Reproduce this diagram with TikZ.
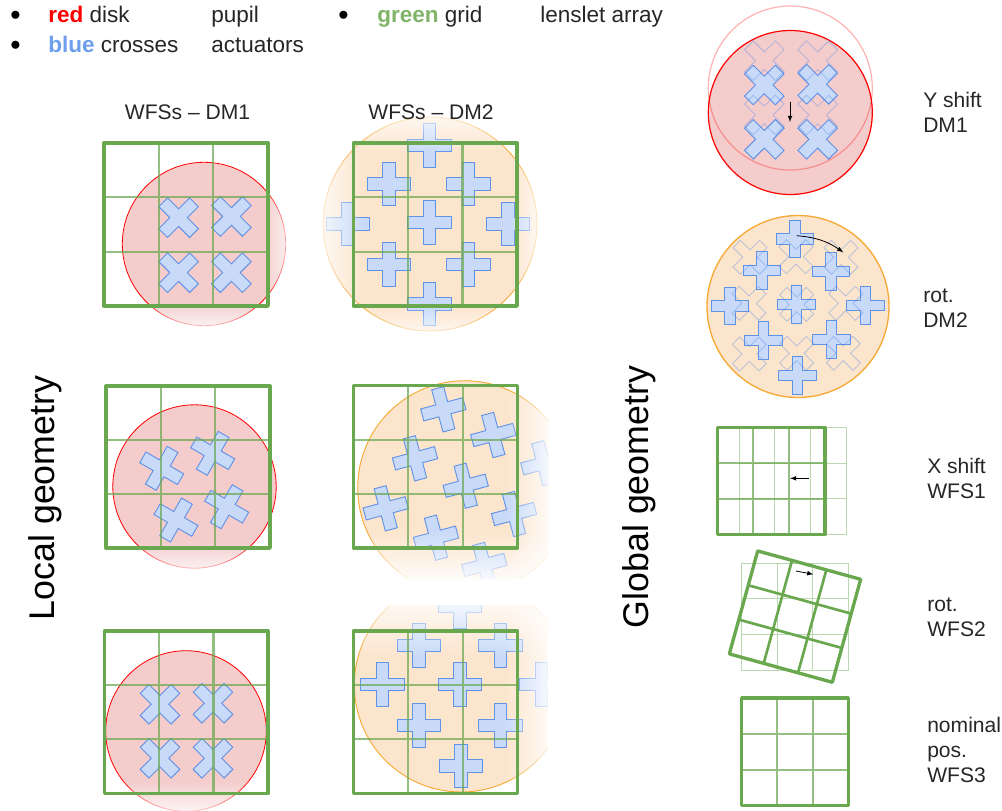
\documentclass[tikz,border=0pt]{standalone}
\usepackage{fontspec}
\setmainfont{Liberation Sans}
\usetikzlibrary{fadings}

\definecolor{diskred}{HTML}{F4CCCC}
\definecolor{ringorange}{HTML}{F6A935}
\definecolor{diskorange}{HTML}{FCE5CD}
\definecolor{actfill}{HTML}{C9DAF8}
\definecolor{actline}{HTML}{4A86E8}
\definecolor{gridgreen}{HTML}{6AA84F}
\definecolor{wordblue}{HTML}{6D9EEB}

\tikzstyle{reddisk} = [fill = diskred, draw = red, line width = 0.6pt]
\tikzstyle{orangedisk} = [fill = diskorange, draw = ringorange, line width = 0.7pt]
\tikzstyle{actuator} = [fill = actfill, draw = actline, draw opacity = 0.85, line width = 0.7pt, line join = miter]
\tikzstyle{ghostact} = [draw = actline, draw opacity = 0.35, line width = 0.7pt]
\tikzstyle{gridouter} = [draw = gridgreen, line width = 2.5pt, line join = round]
\tikzstyle{gridinner} = [draw = gridgreen, line width = 1.7pt, draw opacity = 0.72]
\tikzstyle{gridsolid} = [draw = gridgreen, line width = 2pt]
\tikzstyle{gridghost} = [draw = gridgreen, line width = 0.7pt, draw opacity = 0.45]
\tikzstyle{sidetext} = [font = \fontsize{15.8}{18.8}\selectfont, align = left, anchor = west, inner sep = 0pt, text = black!85]
\tikzstyle{legendtext} = [font = \fontsize{16.9}{20}\selectfont, anchor = base west, inner sep = 0pt, text = black!85]
\tikzstyle{bulletmark} = [font = \fontsize{14}{16}\selectfont, anchor = base west, inner sep = 0pt, text = black]
\tikzstyle{bignote} = [font = \fontsize{26.8}{30}\selectfont, rotate = 90, inner sep = 0pt]
\tikzstyle{shiftarrow} = [-latex, line width = 0.6pt, black]

\def\hl{21.8}
\def\hw{6.2}

\newcommand{\plusat}[4]{\draw[#1, shift = {(#2, #3)}, rotate = #4]
	(-\hw, -\hl) -- (\hw, -\hl) -- (\hw, -\hw) -- (\hl, -\hw) -- (\hl, \hw) -- (\hw, \hw) -- (\hw, \hl)
	-- (-\hw, \hl) -- (-\hw, \hw) -- (-\hl, \hw) -- (-\hl, -\hw) -- (-\hw, -\hw) -- cycle;}

\newcommand{\lensgrid}[6]{
	\pgfmathsetmacro{\gxa}{#3 + (#5 - #3) / 3}
	\pgfmathsetmacro{\gxb}{#3 + 2 * (#5 - #3) / 3}
	\pgfmathsetmacro{\gya}{#4 + (#6 - #4) / 3}
	\pgfmathsetmacro{\gyb}{#4 + 2 * (#6 - #4) / 3}
	\draw[#2] (\gxa, #4) -- (\gxa, #6) (\gxb, #4) -- (\gxb, #6) (#3, \gya) -- (#5, \gya) (#3, \gyb) -- (#5, \gyb);
	\draw[#1] (#3, #4) rectangle (#5, #6);}

\begin{document}
\begin{tikzpicture}[x = 0.75pt, y = -0.75pt]
	\useasboundingbox (0, 0) rectangle (1002, 810);

	% top left panel
	\draw[reddisk] (204, 244) circle (81.7);
	\foreach \cx/\cy in {178.6/217.7, 231.4/216.5, 178.6/272.7, 231.4/272.7}
		\plusat{actuator}{\cx}{\cy}{45};
	\fill[white, path fading = west] (264, 160) rectangle (296, 330);
	\fill[white, path fading = north] (110, 301) rectangle (295, 335);
	\lensgrid{gridouter}{gridinner}{104}{143}{268}{306}

	% top middle panel
	\draw[orangedisk] (430, 224) circle (107);
	\foreach \cx/\cy in {429.6/145.7, 389/184, 468.6/184, 429.6/222.7, 348/224, 508/224, 389/264.7, 468.6/264.7, 429.6/304}
		\plusat{actuator}{\cx}{\cy}{0};
	\fill[white, path fading = east] (309, 110) rectangle (363, 340);
	\fill[white, path fading = south] (320, 103) rectangle (540, 153);
	\fill[white, path fading = north] (320, 306) rectangle (540, 342);
	\fill[white, path fading = west] (511, 110) rectangle (547, 340);
	\lensgrid{gridouter}{gridinner}{353.5}{143}{517}{306}

	% second row
	\draw[reddisk] (194.5, 486.5) circle (81.7);
	\foreach \cx/\cy in {161.7/468.3, 212.7/453.3, 176/520, 226.7/506.7}
		\plusat{actuator}{\cx}{\cy}{-30};
	\fill[white, path fading = north] (100, 541) rectangle (285, 579);
	\lensgrid{gridouter}{gridinner}{106}{386}{270}{548}

	\begin{scope}
		\clip (340, 375) rectangle (548, 578);
		\draw[orangedisk] (464.7, 487.7) circle (107);
		\foreach \cx/\cy in {443.3/409.3, 493.3/435, 415/458.3, 465.7/485.7, 385.7/508.3, 514/514, 436/537.7, 484.3/565, 543.3/463.3}
			\plusat{actuator}{\cx}{\cy}{15};
		\fill[white, path fading = west] (507, 375) rectangle (558, 600);
		\fill[white, path fading = north] (340, 531) rectangle (560, 586);
	\end{scope}
	\lensgrid{gridouter}{gridinner}{353.5}{385.5}{517.5}{548}

	% third row
	\draw[reddisk] (186, 731) circle (80.3);
	\foreach \cx/\cy in {160/704.3, 213/703.3, 160/758.3, 213/758.3}
		\plusat{actuator}{\cx}{\cy}{45};
	\fill[white, path fading = north] (95, 780) rectangle (280, 820);
	\lensgrid{gridouter}{gridinner}{104.5}{631}{268}{793.5}

	\begin{scope}
		\clip (345, 605) rectangle (547, 800);
		\draw[orangedisk] (461.3, 685) circle (107);
		\foreach \cx/\cy in {460/606.7, 419/645.7, 500.7/645.7, 382.7/684.3, 460/684.3, 541.7/684.3, 419/725.7, 500.7/725.7, 461/766}
			\plusat{actuator}{\cx}{\cy}{0};
		\fill[white, path fading = south] (345, 587) rectangle (547, 657);
		\fill[white, path fading = west] (504, 600) rectangle (558, 800);
	\end{scope}
	\lensgrid{gridouter}{gridinner}{353.5}{631}{517.5}{793.5}

	% global geometry, disks
	\draw[reddisk, line width = 0.9pt] (790.3, 112.5) circle (82);
	\foreach \cx/\cy in {764.3/85, 817.7/84.3, 764.3/139.3, 817.7/139.3}
		\plusat{actuator}{\cx}{\cy}{45};
	\foreach \cx/\cy in {764.3/60.7, 817.7/60.7, 764.3/115, 817.7/115}
		\plusat{ghostact}{\cx}{\cy}{45};
	\draw[draw = red, draw opacity = 0.3, line width = 0.9pt] (790.3, 88) circle (82);

	\draw[orangedisk, line width = 1pt] (798, 306.5) circle (91);
	\begin{scope}
		\def\hl{18.8}
		\def\hw{5.2}
		\foreach \cx/\cy in {795/239, 762/270.3, 831/271.7, 730/306, 796.7/304.3, 865.7/305.7, 763.7/340.3, 831.7/339.3, 797.3/375.3}
			\plusat{actuator}{\cx}{\cy}{0};
		\foreach \cx/\cy in {750/257.3, 796/256.7, 841/257.3, 749/303.3, 796.7/304.3, 845.7/303.3, 749.3/354, 796.7/353.3, 843.3/353.3}
			\plusat{ghostact}{\cx}{\cy}{45};
	\end{scope}

	% global geometry, grids
	\lensgrid{gridghost}{gridghost}{739}{427.5}{846}{534.5}
	\lensgrid{gridouter}{gridinner}{717.5}{427.5}{825}{534.5}

	\lensgrid{gridghost}{gridghost}{741.7}{563.3}{848.3}{670}
	\begin{scope}[rotate around = {-15.4:(795, 616.6)}]
		\lensgrid{gridouter}{gridsolid}{741.6}{563.2}{848.4}{670}
	\end{scope}

	\lensgrid{gridouter}{gridinner}{741.7}{698}{848.3}{805.5}

	% arrows
	\coordinate (yshiftA) at (790, 101.5);
	\coordinate (yshiftB) at (790, 122);
	\coordinate (rotdmA) at (796.7, 235.7);
	\coordinate (rotdmB) at (843.3, 252.3);
	\coordinate (xshiftA) at (809.3, 478.3);
	\coordinate (xshiftB) at (790, 478.3);
	\coordinate (rotwfsA) at (796, 571);
	\coordinate (rotwfsB) at (813.3, 574.3);
	\draw [shiftarrow] (yshiftA) -- (yshiftB);
	\draw [shiftarrow] (rotdmA) to [bend left = 15] (rotdmB);
	\draw [shiftarrow] (xshiftA) -- (xshiftB);
	\draw [shiftarrow] (rotwfsA) -- (rotwfsB);

	% texts
	\node [sidetext, anchor = center] at (187.5, 112) (titleA) {WFSs – DM1};
	\node [sidetext, anchor = center] at (431, 112) (titleB) {WFSs – DM2};
	\node [bignote] at (45, 498) (localnote) {Local geometry};
	\node [bignote] at (639, 497) (globalnote) {Global geometry};

	\node [sidetext] at (923, 112) (yshiftnote) {Y shift\\DM1};
	\node [sidetext] at (923, 308) (rotdmnote) {rot.\\DM2};
	\node [sidetext] at (927, 478) (xshiftnote) {X shift\\WFS1};
	\node [sidetext] at (927, 617) (rotwfsnote) {rot.\\WFS2};
	\node [sidetext] at (927, 750) (nominalnote) {nominal\\pos.\\WFS3};

	\node [bulletmark] at (9.5, 20) (bulletA) {●};
	\node [legendtext] at (48, 22) (redword) {\textcolor{red}{\textbf{red}} disk};
	\node [legendtext] at (211, 22) (pupilword) {pupil};
	\node [bulletmark] at (9.5, 50) (bulletB) {●};
	\node [legendtext] at (48, 52) (blueword) {\textcolor{wordblue}{\textbf{blue}} crosses};
	\node [legendtext] at (211, 52) (actword) {actuators};
	\node [bulletmark] at (337.5, 20) (bulletC) {●};
	\node [legendtext] at (377, 22) (greenword) {\textcolor{gridgreen!85!white}{\textbf{green}} grid};
	\node [legendtext] at (540, 22) (lensword) {lenslet array};
\end{tikzpicture}
\end{document}
